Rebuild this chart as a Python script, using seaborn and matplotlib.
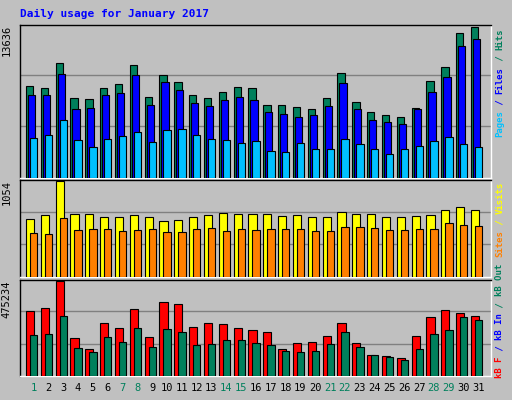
import numpy as np
import matplotlib
matplotlib.use("Agg")
import matplotlib.pyplot as plt
import seaborn as sns

days = list(range(1, 32))
weekend = [1, 7, 8, 14, 15, 21, 22, 28, 29]
hits = [8301, 8115, 10341, 7188, 7095, 8115, 8486, 10156, 7280, 9300, 8656, 7466, 7188, 7744, 8208, 8115, 6570, 6570, 6385, 6200, 7188, 9465, 6880, 5942, 5663, 5477, 6323, 8766, 10016, 13018, 13636]
files = [7466, 7466, 9392, 6231, 6323, 7466, 7651, 9300, 6570, 8656, 7899, 6773, 6508, 7063, 7250, 7063, 5937, 5752, 5474, 5663, 6508, 8563, 6231, 5198, 5010, 4824, 6200, 7713, 9124, 11876, 12500]
pages = [3587, 3865, 5257, 3401, 2751, 3494, 3772, 4143, 3215, 4330, 4422, 3865, 3494, 3401, 3123, 3308, 2473, 2380, 3123, 2566, 2566, 3494, 3030, 2566, 2133, 2566, 2844, 3308, 3679, 3030, 2751]
visits = [641, 682, 1054, 687, 687, 663, 655, 676, 655, 613, 630, 655, 679, 703, 695, 687, 695, 672, 679, 663, 663, 717, 687, 695, 655, 655, 672, 679, 737, 763, 737]
sites = [481, 473, 649, 515, 531, 523, 506, 515, 523, 496, 496, 531, 540, 506, 531, 515, 523, 523, 531, 506, 506, 554, 546, 540, 515, 515, 531, 531, 590, 573, 565]
kbf = [323138, 338806, 475234, 188025, 135801, 266241, 240129, 333584, 193247, 369046, 358600, 243611, 264500, 259277, 238388, 227943, 217497, 135801, 167136, 172358, 198470, 266241, 167136, 104466, 99243, 88798, 198470, 297027, 328361, 316200, 300532]
kbout = [203691, 208913, 302250, 140847, 120000, 193247, 172358, 240129, 146066, 235000, 219300, 156512, 161734, 177582, 177582, 167136, 156512, 125256, 120000, 125256, 161734, 219300, 146066, 104466, 94000, 78373, 135801, 208913, 229800, 292600, 282100]
kbin = [1500] * 31

sns.set_style("white")
plt.rcParams['font.family'] = ['DejaVu Sans Mono', 'DejaVu Sans']
bg = "#c0c0c0"
fig = plt.figure(figsize=(5.12, 4.0), dpi=100, facecolor=bg)
x = np.array(days)
L, W = 20/512, 471/512
ax1 = fig.add_axes([L, 0.555, W, 0.3825])
ax2 = fig.add_axes([L, 0.3075, W, 0.2425])
ax3 = fig.add_axes([L, 0.06, W, 0.24])
kw = dict(align="edge", edgecolor="black", linewidth=0.8, zorder=3)
ax1.bar(x-0.5, hits, 0.49, color="#00805c", **kw)
ax1.bar(x-0.37, files, 0.49, color="#0000ff", **kw)
ax1.bar(x-0.23, pages, 0.49, color="#00c0ff", **kw)
ax2.bar(x-0.5, visits, 0.55, color="#ffff00", **kw)
ax2.bar(x-0.23, sites, 0.49, color="#ff8000", **kw)
ax3.bar(x-0.5, kbf, 0.55, color="#ff0000", **kw)
ax3.bar(x-0.37, kbin, 0.49, color="#0000ff", **kw)
ax3.bar(x-0.23, kbout, 0.49, color="#00805c", **kw)

for ax, mx, lab in [(ax1, max(hits), "13636"), (ax2, max(visits), "1054"), (ax3, max(kbf), "475234")]:
    top = mx*1.01
    ax.set_ylim(0, top)
    ax.set_xlim(0.1, 31.85)
    ax.set_facecolor(bg)
    for f in (1/3, 2/3):
        ax.axhline(mx*f*1.02, color="#808080", lw=1, zorder=1)
    ax.set_yticks([]); ax.set_xticks([])
    for s in ax.spines.values():
        s.set_color("black"); s.set_linewidth(1)
    ax.spines['right'].set_color("white"); ax.spines['bottom'].set_color("white")
    ax.text(-0.028, 1.0, lab, transform=ax.transAxes, rotation=90, ha="center", va="top", fontsize=7.5, color="black")

FS = 6.5
CH = 0.602 * FS * 100 / 72  # px per char

def rlabel(parts, ypix):
    y = ypix
    for txt, col in parts:
        fig.text(500/512, 1 - y/400, txt, rotation=90, ha="center", va="bottom", fontsize=FS, color=col,
                 fontweight="bold")
        y -= len(txt) * CH

rlabel([("Pages", "#00c0ff"), (" / ", "#0000ff"), ("Files", "#0000ff"), (" / ", "#00805c"), ("Hits", "#00805c")], 137)
rlabel([("Sites", "#ff8000"), (" / ", "#ffff00"), ("Visits", "#ffff00")], 257)
rlabel([("kB F", "#ff0000"), (" / ", "#0000ff"), ("kB In", "#0000ff"), (" / ", "#00805c"), ("kB Out", "#00805c")], 378)

for d in days:
    ax3.text(d, -0.07, str(d), transform=ax3.get_xaxis_transform(), ha="center", va="top", fontsize=7.5,
             color="#00805c" if d in weekend else "black")
fig.text(20/512, 1-14/400, "Daily usage for January 2017", color="#0000ff", fontsize=8, fontweight="bold", va="center")
fig.savefig("out.png", dpi=100, facecolor=bg)
